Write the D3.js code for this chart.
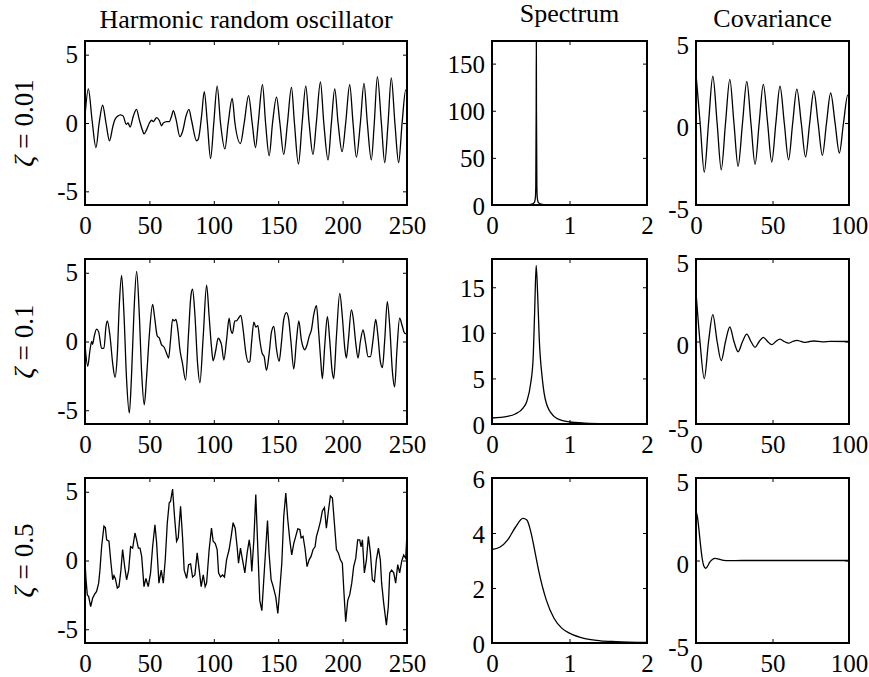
<!DOCTYPE html>
<html lang="en">
<head>
<meta charset="UTF-8">
<title>Harmonic random oscillator</title>
<style>
  body { margin: 0; background: #fff; }
  svg { display: block; }
  text { font-family: "Liberation Serif", "DejaVu Serif", serif; fill: #000; }
  .tick text { font-size: 25px; }
  .tick line { stroke: #000; stroke-width: 1; }
  .frame { fill: none; stroke: #000; stroke-width: 2; }
  .curve { fill: none; stroke: #000; stroke-width: 1.3; }
  .title { font-size: 26px; }
  .rowlabel { font-size: 27px; }
</style>
<script src="https://d3js.org/d3.v7.min.js"></script>
</head>
<body>
<script>
// titles and labels
const colTitles = ["Harmonic random oscillator", "Spectrum", "Covariance"];
const zetas = ["0.01", "0.1", "0.5"];

// ticks
const signalTicksX = [0, 50, 100, 150, 200, 250];
const signalTicksY = [-5, 0, 5];
const spectrumTicksX = [0, 1, 2];
const spectrumTicksY = [[0, 50, 100, 150], [0, 5, 10, 15], [0, 2, 4, 6]];
const spectrumTop = [174, 18.1, 6];
const covTicksX = [0, 50, 100];
const covTicksY = [-5, 0, 5];

// sample paths, [t, x(t)]
const signal001 = [
  [0, 0.5], [2.6, 2.5], [5.5, 0.2], [8.5, -1.8], [11, 0], [13.7, 1.3], [16.3, 0], [19, -1.3],
  [21.5, -0.3], [23, 0.2], [25.3, 0.5], [27.7, 0.6], [29.7, 0.5], [32, -0.1], [33.4, 0], [35, -0.3],
  [37.5, 0.5], [40, 1.0], [42, 0.3], [44.5, -0.5], [45.8, -0.8], [47.8, -0.5], [50, 0], [51.7, 0.2],
  [53, 0.1], [55.6, 0.4], [57.6, 0.2], [59.5, -0.2], [60.8, 0], [63.4, 0.1], [65.4, 0.1], [67.2, 0.5],
  [68.5, 0.9], [70.6, 0.3], [73.7, -1.0], [75.8, -0.6], [78.4, 0.5], [80.7, 1.0], [82.7, 0.2],
  [86.6, -1.3], [87.9, -1.2], [90.5, 0.5], [92.6, 2.3], [95, 0], [97.5, -2.6], [100, 0], [102.6, 2.7],
  [105.2, 0], [108.6, -1.9], [111.2, 0], [114.3, 1.8], [116.4, 0], [120.7, -1.5], [123.6, 0],
  [127, 2.0], [129.8, 0], [132.4, -1.8], [134.5, 0], [137.8, 2.8], [140.2, 0], [143, -2.4],
  [145.6, 0], [148.7, 1.9], [151.3, 0], [154.3, -2.3], [157.2, 0], [160.3, 2.6], [162.6, 0],
  [165.7, -3.0], [168.6, 0], [171.4, 2.7], [174, 0], [177, -2.3], [179.6, 0], [182.8, 3.0],
  [185.4, 0], [188.7, -2.7], [191.3, 0], [193.9, 2.5], [196.5, 0], [199.6, -2.1], [202.4, 0],
  [205.5, 2.8], [208.1, 0], [210.7, -2.5], [213.8, 0], [216.6, 2.9], [219.2, 0], [222.3, -2.7],
  [224.6, 0], [227, 3.4], [230.1, 0], [232.7, -2.9], [235.3, 0], [237.8, 3.3], [240.6, 0],
  [243.5, -2.9], [246.2, 0], [249, 2.4], [250, 2.3]
];

const signal01 = [
  [0, -0.2], [2.1, -1.8], [3.9, -0.6], [5.2, 0], [5.9, -0.2], [7.2, 0.4], [9.0, 0.9], [10.6, 0.7],
  [12.9, -0.5], [14.7, -0.5], [16.3, 1.1], [17.3, 1.5], [19.4, 0.4], [21.5, -1.6], [23.3, -2.6],
  [25.1, -0.9], [26.6, 2.6], [28.4, 4.8], [30.2, 2.1], [32.3, -2.8], [34.4, -5.2], [36.2, -2.3],
  [38.0, 2.1], [40.1, 5.1], [42.1, 2.1], [44.0, -2.3], [46.0, -4.6], [47.8, -2.6], [49.9, 0.4],
  [52.5, 2.7], [54.0, 1.8], [56.1, 0.4], [57.7, 0.25], [59.5, -0.25], [61.3, -0.4], [63.3, -0.85],
  [64.9, -1.2], [66.4, 0.1], [68.0, 1.6], [69.3, 1.5], [70.6, 1.6], [72.1, 0.85], [73.7, -0.6],
  [75.7, -1.6], [78.1, -2.8], [80.4, 0.6], [82.2, 3.3], [83.5, 3.8], [85.3, 2.0], [87.4, -1.6],
  [89.2, -3.0], [91.8, 0.4], [94.4, 4.1], [96.4, 1.8], [98.2, -0.4], [99.5, -1.4], [101.6, -0.6],
  [103.4, 0.25], [104.7, 0.1], [106.0, -0.25], [107.8, -1.35], [109.9, 0.1], [111.9, 1.7],
  [113.2, 0.85], [114.5, 0.6], [116.3, 1.5], [117.6, 1.5], [119.2, 1.7], [121.0, 1.9], [122.8, 0.85],
  [124.9, -0.85], [126.7, -1.5], [128.0, -1.45], [129.3, -0.1], [131.1, 1.4], [132.6, 1.05],
  [134.2, 1.15], [135.7, 0.1], [137.5, -0.85], [139.1, -1.1], [140.9, -2.1], [143.0, -0.85],
  [144.8, 0.7], [146.6, 1.1], [148.6, -0.5], [150.7, -1.45], [152.5, -0.1], [154.3, 1.6],
  [156.4, 2.1], [158.0, 1.7], [159.8, 0.1], [162.1, -2.0], [164.2, 0.1], [166.0, 1.5], [168.0, 0.1],
  [169.3, -0.4], [170.6, -0.6], [172.4, -0.25], [174.0, 0.35], [175.8, 0.85], [177.6, 1.95],
  [179.7, 2.6], [181.5, 0.6], [183.0, -1.35], [184.3, -2.7], [186.1, -0.35], [188.2, 1.8],
  [190.0, 0.1], [191.8, -2.1], [193.1, -2.7], [195.2, 0.35], [197.8, 3.5], [199.8, 1.8],
  [201.7, -0.5], [202.9, -1.2], [204.5, 0.1], [206.8, 2.3], [208.1, 1.8], [210.2, -0.1],
  [212.0, -1.2], [213.8, 0], [215.9, 0.85], [217.7, 0], [219.8, -1.1], [221.6, -1.1], [223.6, 0.1],
  [225.7, 1.6], [227.5, 0.35], [229.3, -1.45], [230.9, -1.9], [232.7, 0.1], [234.7, 2.9],
  [236.6, 1.1], [238.6, -2.1], [240.4, -3.3], [242.2, -0.6], [244.3, 1.7], [246.1, 1.2],
  [248.2, 0.6], [250, 0.55]
];

const signal05 = [
  [0, -0.05], [0.8, -1.4], [1.8, -2.5], [2.8, -2.6], [4.4, -3.35], [5.9, -2.75], [7.5, -2.45],
  [9.0, -2.25], [10.6, -1.65], [11.6, -0.7], [12.9, 1.0], [14.7, 2.5], [15.8, 2.4], [16.8, 1.5],
  [18.6, 1.4], [19.9, 0.05], [21.5, -1.4], [22.5, -1.1], [23.5, -1.3], [25.1, -2.0], [26.4, -1.9],
  [27.9, -0.7], [29.2, 0.8], [30.8, -0.45], [32.3, -1.4], [33.9, -0.7], [35.4, 1.0], [37.0, 0.9],
  [38.8, 2.0], [40.1, 1.5], [41.4, 0.9], [42.7, 0.9], [44.0, 0.3], [45.8, -1.9], [47.3, -1.3],
  [49.1, -1.9], [50.9, -0.9], [52.5, 1.0], [54.3, 2.6], [55.6, 1.3], [57.4, -1.65], [59.2, -0.7],
  [60.8, -1.65], [62.3, 0.05], [63.9, 2.75], [65.4, 4.2], [66.4, 4.3], [68.0, 5.2], [69.5, 3.2],
  [71.1, 1.4], [72.4, 1.65], [74.2, 3.95], [75.7, 1.75], [77.0, -0.7], [78.9, -1.3], [80.4, -0.3],
  [82.0, -0.25], [83.5, -1.2], [85.3, -1.05], [87.1, 0.55], [88.7, -0.7], [90.2, -1.9], [91.8, -1.05],
  [93.3, -1.9], [94.4, -1.65], [96.4, 0.8], [98.2, 2.35], [99.5, 1.4], [101.1, 1.25], [102.6, 0.8],
  [103.7, -0.9], [105.2, -1.2], [106.8, -1.05], [108.3, -1.2], [109.9, 0.05], [111.9, 0.8],
  [113.5, 1.75], [115.0, 2.75], [116.6, 2.35], [118.1, 1.0], [119.2, -0.2], [120.7, 0.9],
  [122.3, 0.05], [124.1, -0.9], [125.9, 0.55], [127.5, 1.5], [128.5, 0.8], [129.5, -0.8],
  [131.1, 1.5], [132.6, 4.8], [134.2, 0.8], [135.7, -2.9], [137.3, -3.65], [138.8, -1.4],
  [140.4, 1.0], [141.7, 2.9], [142.9, 0.55], [144.5, -1.4], [146.1, -1.9], [148.1, -2.65],
  [149.7, -3.85], [151.2, -2.15], [152.8, -0.2], [154.3, 3.2], [155.9, 4.9], [157.4, 3.0],
  [159.0, 1.5], [160.5, 0.4], [162.1, 1.25], [163.6, 1.75], [165.2, 2.3], [166.8, 2.25],
  [167.8, 1.65], [169.3, 1.75], [170.9, 0.8], [172.4, -0.45], [174.0, 0.05], [175.5, 0.3],
  [177.1, 0.8], [178.6, 1.0], [179.7, 1.75], [181.2, 2.25], [182.8, 2.85], [184.3, 3.6],
  [185.9, 3.85], [187.4, 2.35], [189.0, 3.6], [190.5, 4.7], [192.1, 4.55], [193.6, 2.75],
  [195.2, 0.8], [196.7, 0.55], [198.3, 0.05], [199.8, -0.2], [201.1, -2.4], [202.4, -4.45],
  [204.0, -2.9], [205.5, -2.5], [207.1, -1.65], [208.6, -0.45], [210.2, 0.15], [211.7, 1.5],
  [213.3, 1.5], [214.3, 1.0], [215.4, 1.5], [216.9, -0.9], [218.5, 0.05], [220.0, 1.75],
  [221.6, 0.55], [223.1, -1.4], [224.7, -1.55], [226.2, 0.05], [227.8, 0.9], [229.3, 0.05],
  [230.3, -1.65], [231.9, -3.1], [234.0, -4.7], [235.5, -3.35], [236.6, -0.9], [238.1, -0.7],
  [239.7, -0.9], [241.2, -1.65], [242.8, -0.3], [244.3, -0.9], [245.9, -0.05], [247.4, 0.4],
  [249.0, 0.15], [250, 2.0]
];

// spectra, [omega, S(omega)]
const spectrum001 = [
  [0, 0.08], [0.3, 0.12], [0.45, 0.35], [0.5, 0.7], [0.52, 1.1], [0.54, 2.2], [0.55, 3.5],
  [0.56, 8], [0.565, 20], [0.57, 100], [0.572, 174], [0.574, 100], [0.579, 20], [0.584, 8],
  [0.594, 3.5], [0.604, 2.2], [0.624, 1.1], [0.65, 0.6], [0.7, 0.25], [0.8, 0.1], [1, 0.04],
  [1.5, 0.01], [2, 0.005]
];
const spectrum01 = [
  [0, 0.66], [0.2, 0.84], [0.3, 1.1], [0.4, 1.75], [0.45, 2.5], [0.5, 4.5], [0.53, 7.1],
  [0.55, 12.2], [0.57, 17.4], [0.59, 14], [0.61, 9.3], [0.65, 4.9], [0.7, 2.3], [0.8, 0.84],
  [0.9, 0.4], [1.0, 0.22], [1.2, 0.1], [1.5, 0.04], [2, 0.01]
];
const spectrum05 = [
  [0, 3.4], [0.1, 3.48], [0.2, 3.74], [0.3, 4.2], [0.4, 4.53], [0.45, 4.47], [0.5, 4.05],
  [0.55, 3.38], [0.6, 2.66], [0.7, 1.57], [0.8, 0.9], [0.9, 0.54], [1.0, 0.36], [1.2, 0.16],
  [1.4, 0.08], [1.6, 0.05], [2, 0.02]
];

// covariance functions, [tau, r(tau)]
const cov001 = [
  [0, 3.0], [2.7, 0], [5.4, -3.0], [8.2, 0], [11, 2.85], [13.8, 0], [16.5, -2.85], [19.3, 0],
  [22.1, 2.66], [24.8, 0], [27.5, -2.64], [30.4, 0], [33.2, 2.54], [35.9, 0], [38.6, -2.52],
  [41.3, 0], [44, 2.36], [46.8, 0], [49.5, -2.38], [52.2, 0], [54.9, 2.24], [57.7, 0],
  [60.5, -2.24], [63.2, 0], [65.9, 2.07], [68.8, 0], [71.6, -2.07], [74.3, 0], [77, 1.95],
  [79.8, 0], [82.6, -1.97], [85.3, 0], [88, 1.83], [90.9, 0], [93.7, -1.83], [96.4, 0],
  [99.2, 1.7], [100, 1.69]
];
const cov01 = [
  [0, 3.0], [2.6, 0], [5.4, -2.25], [8.2, 0], [11, 1.63], [13.8, 0], [16.5, -1.16], [19.3, 0],
  [22.1, 0.88], [24.8, 0], [27.5, -0.62], [30.4, 0], [33.2, 0.45], [35.9, 0], [38.6, -0.35],
  [41.3, 0], [44, 0.25], [46.8, 0], [49.5, -0.19], [52.2, 0], [54.9, 0.15], [57.7, 0],
  [60.5, -0.1], [63.2, 0], [66, 0.07], [68.8, 0], [71.6, -0.05], [74.3, 0], [77, 0.03],
  [82.6, -0.02], [88, 0.01], [100, 0]
];
const cov05 = [
  [0, 3.0], [1, 2.6], [2, 1.8], [3, 0.9], [4, 0.15], [5, -0.3], [6.3, -0.47], [7.5, -0.35],
  [9, -0.1], [10.5, 0.05], [12.6, 0.13], [15, 0.08], [18, 0.01], [22, -0.01], [30, 0], [100, 0]
];

const signals = [signal001, signal01, signal05];
const spectra = [spectrum001, spectrum01, spectrum05];
const covs = [cov001, cov01, cov05];

// layout
const width = 869, height = 677;
const colX = [[85, 407], [492, 647], [696, 849]];
const rowY = [[41, 205], [259, 424], [478, 643]];
const titleY = [28, 22, 27];

const svg = d3.select("body").append("svg")
    .attr("width", width)
    .attr("height", height);

function drawPanel(row, col, data, xDomain, yDomain, xTicks, yTicks, curve, labelShift) {
    const [x0, x1] = colX[col], [y0, y1] = rowY[row];
    const x = d3.scaleLinear().domain(xDomain).range([x0, x1]);
    const y = d3.scaleLinear().domain(yDomain).range([y1, y0]);
    const id = `clip-${row}-${col}`;

    svg.append("clipPath").attr("id", id)
        .append("rect")
        .attr("x", x0).attr("y", y0)
        .attr("width", x1 - x0).attr("height", y1 - y0);

    svg.append("path")
        .datum(data)
        .attr("class", "curve")
        .attr("clip-path", `url(#${id})`)
        .attr("d", d3.line().x(d => x(d[0])).y(d => y(d[1])).curve(curve));

    const fmt = d => String(d);

    svg.append("g")
        .attr("transform", `translate(0,${y1})`)
        .call(d3.axisBottom(x).tickValues(xTicks).tickFormat(fmt)
            .tickSizeInner(-4).tickSizeOuter(0).tickPadding(11));
    svg.append("g")
        .attr("transform", `translate(0,${y0})`)
        .call(d3.axisTop(x).tickValues(xTicks).tickFormat("")
            .tickSizeInner(-4).tickSizeOuter(0));
    const left = svg.append("g")
        .attr("transform", `translate(${x0},0)`)
        .call(d3.axisLeft(y).tickValues(yTicks).tickFormat(fmt)
            .tickSizeInner(-4).tickSizeOuter(0).tickPadding(7));
    left.selectAll(".tick text").attr("transform", `translate(0,${labelShift})`);
    svg.append("g")
        .attr("transform", `translate(${x1},0)`)
        .call(d3.axisRight(y).tickValues(yTicks).tickFormat("")
            .tickSizeInner(-4).tickSizeOuter(0));

    svg.selectAll(".domain").remove();

    svg.append("rect")
        .attr("class", "frame")
        .attr("x", x0).attr("y", y0)
        .attr("width", x1 - x0).attr("height", y1 - y0);
}

for (let r = 0; r < 3; r++) {
    // the strongly damped path looks jagged, so it keeps straight segments
    const pathCurve = r === 2 ? d3.curveLinear : d3.curveMonotoneX;
    drawPanel(r, 0, signals[r], [0, 250], [-6, 6], signalTicksX, signalTicksY, pathCurve, 0);
    drawPanel(r, 1, spectra[r], [0, 2], [0, spectrumTop[r]], spectrumTicksX, spectrumTicksY[r], d3.curveMonotoneX, 1);
    drawPanel(r, 2, covs[r], [0, 100], [-5, 5], covTicksX, covTicksY, d3.curveMonotoneX, 4);
}

// column titles
colTitles.forEach((t, c) => {
    svg.append("text")
        .attr("class", "title")
        .attr("x", (colX[c][0] + colX[c][1]) / 2)
        .attr("y", titleY[c])
        .attr("text-anchor", "middle")
        .text(t);
});

// row labels
zetas.forEach((z, r) => {
    const cy = (rowY[r][0] + rowY[r][1]) / 2;
    const label = svg.append("text")
        .attr("class", "rowlabel")
        .attr("transform", `translate(33,${cy}) rotate(-90)`)
        .attr("text-anchor", "middle");
    label.append("tspan").attr("font-style", "italic").text("ζ");
    label.append("tspan").attr("dx", 7).text("=");
    label.append("tspan").attr("dx", 7).text(z);
});
</script>
</body>
</html>
